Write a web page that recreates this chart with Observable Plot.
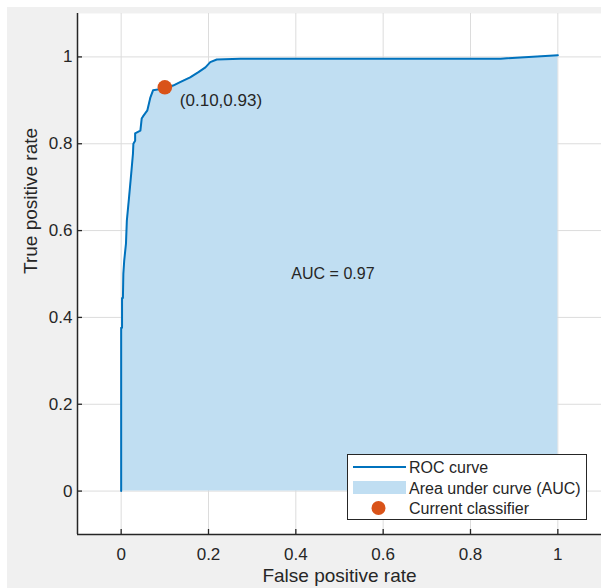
<!DOCTYPE html>
<html><head><meta charset="utf-8">
<script src="https://cdn.jsdelivr.net/npm/d3@7"></script>
<script src="https://cdn.jsdelivr.net/npm/@observablehq/plot@0.6"></script>
<style>
body{margin:0;background:#fff;font-family:"Liberation Sans",Arial,sans-serif;}
#wrap{position:relative;width:601px;height:588px;overflow:hidden;}
#bg{position:absolute;left:7px;top:7px;width:594px;height:581px;background:#f0f0f0;}
#chart{position:absolute;left:0;top:0;}
#legend{position:absolute;left:347px;top:454px;width:240px;height:66px;}
</style></head><body>
<div id="wrap"><div id="bg"></div><div id="chart"></div><div id="legend"></div></div>
<script>
// ROC curve points
const fpr = [0, 0, 0.002, 0.002, 0.004, 0.005, 0.007, 0.011, 0.013, 0.018, 0.023, 0.027, 0.028, 0.032, 0.032, 0.044, 0.047, 0.050, 0.060, 0.067, 0.073, 0.096, 0.119, 0.135, 0.158, 0.177, 0.193, 0.204, 0.219, 0.273, 0.869, 1.0];
const tpr = [0, 0.376, 0.376, 0.445, 0.445, 0.501, 0.531, 0.570, 0.623, 0.676, 0.731, 0.777, 0.800, 0.807, 0.824, 0.830, 0.858, 0.863, 0.877, 0.907, 0.923, 0.927, 0.934, 0.942, 0.953, 0.965, 0.976, 0.988, 0.994, 0.996, 0.996, 1.004];
const currentFpr = [0.10];
const currentTpr = [0.93];
const aucValue = [0.97];
const xTicks = [0, 0.2, 0.4, 0.6, 0.8, 1];
const yTicks = [0, 0.2, 0.4, 0.6, 0.8, 1];
const xLabel = "False positive rate";
const yLabel = "True positive rate";
const legendLabels = ["ROC curve", "Area under curve (AUC)", "Current classifier"];

const blue = "#0072bd", fillBlue = "#c0def2", orange = "#d95319", ink = "#262626";
const roc = fpr.map((x, i) => ({x, y: tpr[i]}));
const current = currentFpr.map((x, i) => ({x, y: currentTpr[i]}));
const fmt = d => String(d);

const chart = Plot.plot({
  width: 601, height: 588,
  marginLeft: 77, marginRight: 0, marginTop: 13, marginBottom: 54,
  style: {background: "transparent", fontFamily: "'Liberation Sans', Arial, sans-serif", fontSize: "17px", color: ink, overflow: "visible"},
  x: {domain: [-0.1, 1.1]},
  y: {domain: [-0.1, 1.1]},
  marks: [
    Plot.frame({fill: "white", stroke: null}),
    Plot.gridX(xTicks, {stroke: "#dcdcdc", strokeOpacity: 1, strokeWidth: 1}),
    Plot.gridY(yTicks, {stroke: "#dcdcdc", strokeOpacity: 1, strokeWidth: 1}),
    Plot.areaY(roc, {x: "x", y1: 0, y2: "y", fill: fillBlue}),
    Plot.line(roc, {x: "x", y: "y", stroke: blue, strokeWidth: 2}),
    Plot.dot(current, {x: "x", y: "y", r: 7.3, fill: orange, stroke: null}),
    Plot.text(current, {x: "x", y: "y", text: d => `(${d.x.toFixed(2)},${d.y.toFixed(2)})`, dx: 15, dy: 13, textAnchor: "start", fontSize: 17, fill: ink}),
    Plot.text(aucValue, {x: 0.485, y: 0.5, text: d => `AUC = ${d.toFixed(2)}`, fontSize: 16, fill: ink}),
    Plot.ruleX([-0.1], {stroke: ink, strokeWidth: 1.5}),
    Plot.ruleY([-0.1], {stroke: ink, strokeWidth: 1.5}),
    Plot.ruleX(xTicks, {x: d => d, y1: -0.1, y2: -0.1, insetTop: -5, stroke: ink, strokeWidth: 1.3}),
    Plot.ruleY(yTicks, {y: d => d, x1: -0.1, x2: -0.1, insetRight: -5, stroke: ink, strokeWidth: 1.3}),
    Plot.axisX(xTicks, {tickSize: 0, tickPadding: 13, fontSize: 17, label: null, fill: ink, tickFormat: fmt}),
    Plot.axisY(yTicks, {tickSize: 0, tickPadding: 5, fontSize: 17, label: null, fill: ink, tickFormat: fmt}),
    Plot.text([xLabel], {frameAnchor: "bottom", dy: 47, text: d => d, fontSize: 19, fill: ink}),
    Plot.text([yLabel], {frameAnchor: "left", dx: -47, rotate: -90, text: d => d, fontSize: 19, fill: ink})
  ]
});
document.getElementById("chart").appendChild(chart);

// legend (HTML overlay with SVG swatches)
const rows = [13, 34, 54];
const lg = d3.select("#legend").append("svg").attr("width", 240).attr("height", 66);
lg.append("rect").attr("x", 0.5).attr("y", 0.5).attr("width", 239).attr("height", 65).attr("fill", "white").attr("stroke", ink);
lg.append("line").attr("x1", 6).attr("x2", 59).attr("y1", rows[0]).attr("y2", rows[0]).attr("stroke", blue).attr("stroke-width", 2);
lg.append("rect").attr("x", 6).attr("y", rows[1] - 7).attr("width", 53).attr("height", 13).attr("fill", fillBlue);
lg.append("circle").attr("cx", 31.5).attr("cy", rows[2]).attr("r", 7).attr("fill", orange);
lg.selectAll("text").data(legendLabels).join("text")
  .attr("x", 62).attr("y", (d, i) => rows[i]).attr("dy", "0.35em")
  .attr("font-size", 16).attr("fill", ink)
  .attr("font-family", "'Liberation Sans', Arial, sans-serif")
  .text(d => d);
</script>
</body></html>
